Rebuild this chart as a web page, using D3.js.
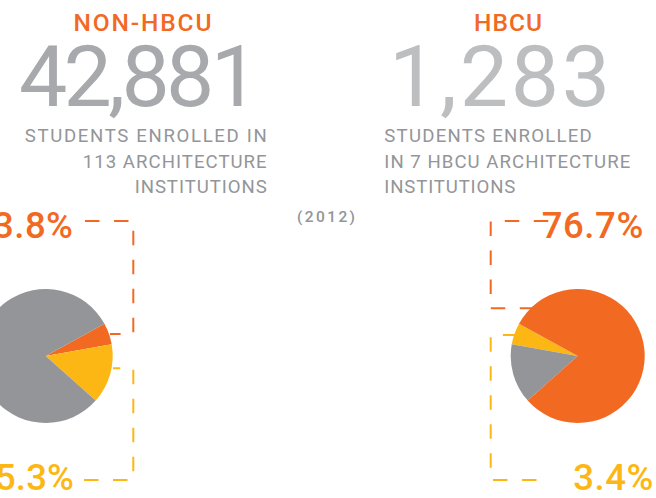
<!DOCTYPE html>
<html>
<head>
<meta charset="utf-8">
<script src="https://cdn.jsdelivr.net/npm/d3@7"></script>
<style>
  html, body { margin: 0; padding: 0; background: #fff; }
  svg { display: block; font-family: Roboto, "DejaVu Sans", sans-serif; }
</style>
</head>
<body>
<svg id="chart" width="656" height="498"></svg>
<script>
// values
const groups = ["NON-HBCU", "HBCU"];
const enrolled = [42881, 1283];
const subtitles = [
  ["STUDENTS ENROLLED IN", "113 ARCHITECTURE", "INSTITUTIONS"],
  ["STUDENTS ENROLLED", "IN 7 HBCU ARCHITECTURE", "INSTITUTIONS"]
];
const yearLabel = "(2012)";
const sliceKeys = ["orange", "yellow", "gray"];
const nonHbcuSlices = [5.2, 14.4, 80.4];
const hbcuSlices = [80.4, 5.2, 14.4];
const nonHbcuLabels = ["3.8%", "15.3%"];
const hbcuLabels = ["76.7%", "3.4%"];

const colors = { orange: "#f26922", yellow: "#fdb714", gray: "#939598" };

const svg = d3.select("svg#chart");
const fmt = d3.format(",");
const deg = Math.PI / 180;

// headers
const header = [
  { x: 142.5, anchor: "middle", len: 138, numX: 19, numLen: 240, numColor: "#a7a9ac",
    subX: 266.7, subAnchor: "end", subLens: [242, 184, 132] },
  { x: 508, anchor: "middle", len: 68, numX: 389, numLen: 221, numColor: "#bcbec0",
    subX: 384.3, subAnchor: "start", subLens: [207.5, 246, 131] }
];

header.forEach((h, i) => {
  svg.append("text")
    .attr("x", h.x).attr("y", 30.7)
    .attr("text-anchor", h.anchor)
    .attr("font-size", 24.5).attr("font-weight", 500)
    .attr("fill", colors.orange)
    .attr("textLength", h.len).attr("lengthAdjust", "spacing")
    .text(groups[i]);

  svg.append("text")
    .attr("x", h.numX).attr("y", 106)
    .attr("font-size", 86).attr("font-weight", 400)
    .attr("fill", h.numColor)
    .attr("textLength", h.numLen).attr("lengthAdjust", "spacing")
    .text(fmt(enrolled[i]));

  svg.append("g")
    .selectAll("text")
    .data(subtitles[i])
    .join("text")
    .attr("x", h.subX)
    .attr("y", (d, j) => [141.7, 168, 193.3][j])
    .attr("text-anchor", h.subAnchor)
    .attr("font-size", 18.6)
    .attr("fill", "#939598")
    .attr("textLength", (d, j) => h.subLens[j]).attr("lengthAdjust", "spacing")
    .text((d) => d);
});

svg.append("text")
  .attr("x", 326).attr("y", 222)
  .attr("text-anchor", "middle")
  .attr("font-size", 15.5)
  .attr("font-weight", 500)
  .attr("fill", "#939598")
  .attr("textLength", 58).attr("lengthAdjust", "spacing")
  .text(yearLabel);

// pies
const r = 67;
const arc = d3.arc().innerRadius(0).outerRadius(r);

const leftPie = d3.pie().sort(null).value((d) => d.value)
  .startAngle(61.2 * deg).endAngle(61.2 * deg + 2 * Math.PI);
const leftData = sliceKeys.map((k, i) => ({ key: k, value: nonHbcuSlices[i] }));

svg.append("g")
  .attr("transform", "translate(45.7,356)")
  .selectAll("path")
  .data(leftPie(leftData))
  .join("path")
  .attr("d", arc)
  .attr("fill", (d) => colors[d.data.key]);

// right pie is laid out counter-clockwise: yellow, gray, orange
const rightOrder = ["yellow", "gray", "orange"];
const rightPie = d3.pie().sort(null).value((d) => d.value)
  .startAngle(-61.2 * deg).endAngle(-61.2 * deg - 2 * Math.PI);
const rightData = rightOrder.map((k) => ({ key: k, value: hbcuSlices[sliceKeys.indexOf(k)] }));

// dashed leader lines (drawn before the right pie so the pie covers them)
const line = d3.line();
const leaders = [
  { pts: [[85, 221], [133.3, 221], [133.3, 334], [110, 334]], color: colors.orange },
  { pts: [[84, 480], [133.3, 480], [133.3, 368.3], [113, 368.3]], color: colors.yellow },
  { pts: [[534.3, 308.3], [490.7, 308.3], [490.7, 221], [548.7, 221]], color: colors.orange },
  { pts: [[517.4, 335], [490.7, 335], [490.7, 480], [536.5, 480]], color: colors.yellow }
];

svg.append("g")
  .selectAll("path")
  .data(leaders)
  .join("path")
  .attr("d", (d) => line(d.pts))
  .attr("fill", "none")
  .attr("stroke", (d) => d.color)
  .attr("stroke-width", 2)
  .attr("stroke-dasharray", "14.5,14.5");

svg.append("g")
  .attr("transform", "translate(577.7,356)")
  .selectAll("path")
  .data(rightPie(rightData))
  .join("path")
  .attr("d", arc)
  .attr("fill", (d) => colors[d.data.key]);

// percentage labels
const pctLabels = [
  { text: nonHbcuLabels[0], x: 73, y: 237.7, anchor: "end", color: colors.orange, len: 80 },
  { text: nonHbcuLabels[1], x: 74, y: 490, anchor: "end", color: colors.yellow, len: 100 },
  { text: hbcuLabels[0], x: 541.7, y: 237.7, anchor: "start", color: colors.orange, len: 101.6 },
  { text: hbcuLabels[1], x: 573.3, y: 490, anchor: "start", color: colors.yellow, len: 80 }
];

svg.append("g")
  .selectAll("text")
  .data(pctLabels)
  .join("text")
  .attr("x", (d) => d.x)
  .attr("y", (d) => d.y)
  .attr("text-anchor", (d) => d.anchor)
  .attr("font-size", 36.5)
  .attr("font-weight", 500)
  .attr("fill", (d) => d.color)
  .attr("textLength", (d) => d.len).attr("lengthAdjust", "spacing")
  .text((d) => d.text);
</script>
</body>
</html>
